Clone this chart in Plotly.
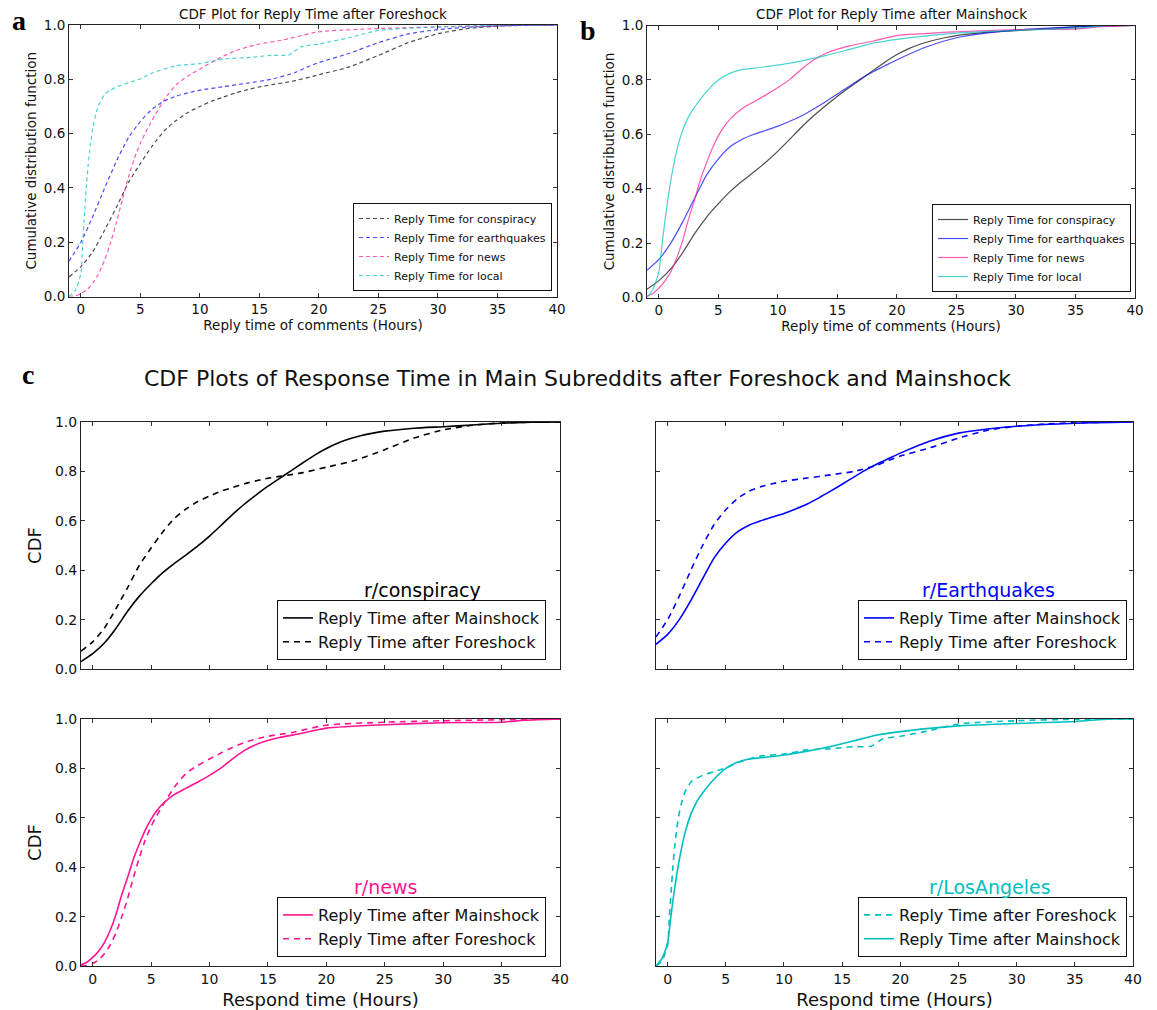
import plotly.graph_objects as go

# ---------------- data ----------------
consp_main_x = [-1, 0, 1, 2, 3, 4, 5, 6, 7, 8, 9, 10, 11, 12, 13, 14, 15, 16, 17, 18, 19, 20, 21, 22, 23, 24, 25, 27.5, 30, 32.5, 35, 37.5, 40]
consp_main_y = [0.03, 0.062, 0.105, 0.165, 0.235, 0.295, 0.345, 0.39, 0.428, 0.462, 0.498, 0.538, 0.582, 0.627, 0.668, 0.705, 0.74, 0.772, 0.803, 0.835, 0.866, 0.893, 0.915, 0.932, 0.945, 0.955, 0.963, 0.975, 0.981, 0.988, 0.995, 0.999, 1.0]
consp_fore_x = [-1, 0, 1, 2, 3, 4, 5, 6, 7, 8, 9, 10, 11, 12, 13, 14, 15, 16, 17, 18, 20, 22.5, 25, 27.5, 30, 32.5, 35, 37.5, 40]
consp_fore_y = [0.072, 0.11, 0.165, 0.245, 0.33, 0.42, 0.49, 0.555, 0.61, 0.648, 0.678, 0.70, 0.72, 0.735, 0.75, 0.762, 0.772, 0.78, 0.787, 0.795, 0.817, 0.845, 0.888, 0.935, 0.968, 0.987, 0.996, 0.999, 1.0]

eq_main_x = [-1, 0, 1, 2, 3, 4, 5, 6, 7, 8, 9, 10, 11, 12, 13, 14, 15, 16, 17, 18, 19, 20, 22.5, 25, 27.5, 30, 35, 40]
eq_main_y = [0.10, 0.14, 0.2, 0.278, 0.365, 0.45, 0.51, 0.555, 0.582, 0.60, 0.615, 0.63, 0.648, 0.668, 0.693, 0.72, 0.748, 0.777, 0.805, 0.83, 0.852, 0.874, 0.922, 0.955, 0.972, 0.983, 0.995, 1.0]
eq_fore_x = [-1, 0, 1, 2, 3, 4, 5, 6, 7, 8, 9, 10, 12, 14, 16, 18, 19, 20, 22.5, 25, 27.5, 30, 32.5, 35, 40]
eq_fore_y = [0.13, 0.2, 0.295, 0.4, 0.5, 0.585, 0.645, 0.69, 0.72, 0.738, 0.75, 0.76, 0.773, 0.786, 0.8, 0.825, 0.845, 0.862, 0.895, 0.935, 0.967, 0.983, 0.992, 0.997, 1.0]

news_main_x = [-1, -0.5, 0, 0.5, 1, 1.5, 2, 2.5, 3, 3.5, 4, 4.5, 5, 5.5, 6, 7, 8, 9, 10, 11, 12, 13, 14, 15, 16, 18, 20, 25, 30, 35, 37, 40]
news_main_y = [0.005, 0.015, 0.035, 0.06, 0.095, 0.145, 0.21, 0.29, 0.36, 0.435, 0.495, 0.55, 0.595, 0.63, 0.657, 0.695, 0.72, 0.745, 0.772, 0.802, 0.84, 0.873, 0.897, 0.913, 0.925, 0.943, 0.963, 0.977, 0.985, 0.987, 0.995, 1.0]
news_fore_x = [-1, -0.5, 0, 0.5, 1, 1.5, 2, 2.5, 3, 3.5, 4, 4.5, 5, 5.5, 6, 7, 8, 9, 10, 11, 12, 13, 14, 15, 17, 20, 25, 30, 35, 40]
news_fore_y = [0.0, 0.002, 0.01, 0.025, 0.05, 0.085, 0.135, 0.2, 0.275, 0.36, 0.44, 0.51, 0.565, 0.61, 0.65, 0.725, 0.78, 0.812, 0.838, 0.863, 0.886, 0.905, 0.919, 0.93, 0.945, 0.975, 0.987, 0.993, 0.997, 1.0]

local_main_x = [-1, -0.5, 0, 0.25, 0.5, 0.75, 1, 1.5, 2, 2.5, 3, 4, 5, 6, 7, 8, 10, 12, 14, 16, 18, 20, 22.5, 25, 30, 35, 38, 40]
local_main_y = [0.0, 0.03, 0.095, 0.19, 0.28, 0.36, 0.43, 0.54, 0.615, 0.665, 0.70, 0.757, 0.80, 0.825, 0.838, 0.843, 0.854, 0.87, 0.889, 0.912, 0.935, 0.949, 0.962, 0.972, 0.982, 0.99, 1.0, 1.0]
local_fore_x = [-1, -0.5, 0, 0.15, 0.3, 0.45, 0.6, 0.8, 1, 1.25, 1.5, 2, 2.5, 3, 4, 5, 6, 8, 10, 12, 14, 16, 17.5, 18.5, 20, 22.5, 25, 30, 35, 40]
local_fore_y = [0.0, 0.02, 0.085, 0.2, 0.3, 0.4, 0.48, 0.56, 0.62, 0.67, 0.705, 0.745, 0.76, 0.772, 0.787, 0.802, 0.823, 0.85, 0.858, 0.875, 0.88, 0.888, 0.89, 0.92, 0.93, 0.953, 0.98, 0.993, 0.999, 1.0]

x_ticks = [0, 5, 10, 15, 20, 25, 30, 35, 40]
y_ticks = [0.0, 0.2, 0.4, 0.6, 0.8, 1.0]

names_ab = ["Reply Time for conspiracy", "Reply Time for earthquakes", "Reply Time for news", "Reply Time for local"]
subreddits = ["r/conspiracy", "r/Earthquakes", "r/news", "r/LosAngeles"]

# ---------------- styling ----------------
W, H = 1157, 1010
FONT = "DejaVu Sans"
full = ["#000000", "#0000ff", "#ff1493", "#00bfbf"]
faded = ["rgba(0,0,0,0.7)", "rgba(0,0,255,0.7)", "rgba(255,20,147,0.7)", "rgba(0,191,191,0.7)"]


def fx(p):
    return p / W


def fy(p):
    return 1 - p / H


fig = go.Figure()

fore = [(consp_fore_x, consp_fore_y), (eq_fore_x, eq_fore_y), (news_fore_x, news_fore_y), (local_fore_x, local_fore_y)]
main = [(consp_main_x, consp_main_y), (eq_main_x, eq_main_y), (news_main_x, news_main_y), (local_main_x, local_main_y)]

# panel a (foreshock, dashed)
for i, (xs, ys) in enumerate(fore):
    fig.add_trace(go.Scatter(x=xs, y=ys, mode="lines", name=names_ab[i],
                             line=dict(color=faded[i], width=1.2, dash="4px,3px", shape="spline", smoothing=0.6),
                             xaxis="x", yaxis="y", legend="legend"))
# panel b (mainshock, solid)
for i, (xs, ys) in enumerate(main):
    fig.add_trace(go.Scatter(x=xs, y=ys, mode="lines", name=names_ab[i],
                             line=dict(color=faded[i], width=1.2, shape="spline", smoothing=0.6),
                             xaxis="x2", yaxis="y2", legend="legend2"))

# panel c
for i in range(4):
    ax = str(i + 3)
    lg = "legend" + ax
    main_tr = go.Scatter(x=main[i][0], y=main[i][1], mode="lines", name="Reply Time after Mainshock",
                         line=dict(color=full[i], width=1.6, shape="spline", smoothing=0.6),
                         xaxis="x" + ax, yaxis="y" + ax, legend=lg)
    fore_tr = go.Scatter(x=fore[i][0], y=fore[i][1], mode="lines", name="Reply Time after Foreshock",
                         line=dict(color=full[i], width=1.6, dash="6px,5px", shape="spline", smoothing=0.6),
                         xaxis="x" + ax, yaxis="y" + ax, legend=lg)
    if i == 3:
        fig.add_trace(fore_tr)
        fig.add_trace(main_tr)
    else:
        fig.add_trace(main_tr)
        fig.add_trace(fore_tr)

# ---------------- axes ----------------
boxes = {
    "": (69, 557, 25, 296.5),
    "2": (647, 1135, 25.5, 297.5),
    "3": (81, 560, 422, 669),
    "4": (656, 1133, 422, 669),
    "5": (81, 560, 719, 966),
    "6": (656, 1133, 719, 966),
}
layout = dict(width=W, height=H, margin=dict(l=0, r=0, t=0, b=0),
              paper_bgcolor="white", plot_bgcolor="white",
              font=dict(family=FONT, color="#111"), showlegend=True)

for k, (x0, x1, y0, y1) in boxes.items():
    small = k in ("", "2")
    tfs = 13.5 if small else 14
    xa = dict(domain=[fx(x0), fx(x1)], range=[-1, 40], tickvals=x_ticks, ticks="inside", ticklen=4,
              tickcolor="#333", showline=True, linecolor="#222", linewidth=1, mirror="ticks",
              showgrid=False, zeroline=False, automargin=False, anchor="y" + k,
              tickfont=dict(size=tfs, family=FONT, color="#111"))
    ya = dict(domain=[fy(y1), fy(y0)], range=[0, 1], tickvals=y_ticks, tickformat=".1f", ticks="inside",
              ticklen=4, tickcolor="#333", showline=True, linecolor="#222", linewidth=1, mirror="ticks",
              showgrid=False, zeroline=False, automargin=False, anchor="x" + k,
              tickfont=dict(size=tfs, family=FONT, color="#111"))
    if small:
        xa["title"] = dict(text="Reply time of comments (Hours)", font=dict(size=13.5, family=FONT), standoff=4)
        ya["title"] = dict(text="Cumulative distribution function", font=dict(size=13.5, family=FONT), standoff=4)
    else:
        if k in ("3", "4"):
            xa["showticklabels"] = False
        else:
            xa["title"] = dict(text="Respond time (Hours)", font=dict(size=18, family=FONT), standoff=8)
        if k in ("4", "6"):
            ya["showticklabels"] = False
        else:
            ya["title"] = dict(text="CDF", font=dict(size=18, family=FONT), standoff=8)
    layout["xaxis" + k] = xa
    layout["yaxis" + k] = ya


# ---------------- legends ----------------
def leg(xr, yb, size):
    return dict(x=fx(xr), y=fy(yb), xanchor="right", yanchor="bottom", xref="paper", yref="paper",
                bgcolor="white", bordercolor="#111", borderwidth=1,
                font=dict(size=size, family=FONT, color="#111"), tracegroupgap=0, itemwidth=30)


layout["legend"] = leg(552, 291, 11)
layout["legend2"] = leg(1131, 292, 11)
layout["legend3"] = leg(546, 660, 16)
layout["legend4"] = leg(1127, 660, 16)
layout["legend5"] = leg(546, 957, 16)
layout["legend6"] = leg(1127, 957, 16)

fig.update_layout(**layout)

# ---------------- text annotations ----------------
ann = []
ann.append(dict(text="CDF Plot for Reply Time after Foreshock", x=fx(313), y=fy(24), xanchor="center",
                yanchor="bottom", font=dict(size=13.5, family=FONT, color="#111")))
ann.append(dict(text="CDF Plot for Reply Time after Mainshock", x=fx(891), y=fy(24), xanchor="center",
                yanchor="bottom", font=dict(size=13.5, family=FONT, color="#111")))
ann.append(dict(text="CDF Plots of Response Time in Main Subreddits after Foreshock and Mainshock",
                x=fx(577), y=fy(378), xanchor="center", yanchor="middle",
                font=dict(size=22, family=FONT, color="#111")))
for lbl, px_, py_ in [("a", 19, 20), ("b", 588, 30), ("c", 28, 374)]:
    ann.append(dict(text="<b>" + lbl + "</b>", x=fx(px_), y=fy(py_), xanchor="center", yanchor="middle",
                    font=dict(size=28, family="Liberation Serif", color="#000")))
sub_pos = [(422, 590), (988, 590), (385, 887), (990, 887)]
for i, s in enumerate(subreddits):
    ann.append(dict(text=s, x=fx(sub_pos[i][0]), y=fy(sub_pos[i][1]), xanchor="center", yanchor="middle",
                    font=dict(size=19, family=FONT, color=full[i])))
for a in ann:
    a.update(xref="paper", yref="paper", showarrow=False)
fig.update_layout(annotations=ann)

fig.write_html("out.html", config={"displayModeBar": False},
               post_script="document.body.style.margin='0';document.body.style.overflow='hidden';")
